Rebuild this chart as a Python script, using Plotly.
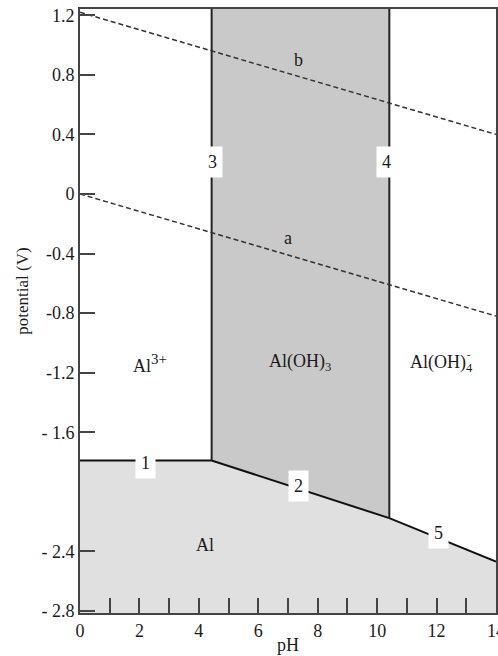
import plotly.graph_objects as go

# ---- data ----
ph_boundary = [0, 4.43, 10.41, 14]          # Al / ionic species boundary (lines 1, 2, 5)
v_boundary = [-1.79, -1.79, -2.177, -2.468]
ph_vertical = [4.43, 10.41]                  # lines 3 and 4
ph_water = [0, 14]
v_water_a = [0.0, -0.82]                     # dashed line a
v_water_b = [1.22, 0.40]                     # dashed line b
y_min, y_max = -2.814, 1.242

y_ticks = [1.2, 0.8, 0.4, 0, -0.4, -0.8, -1.2, -1.6, -2.4, -2.8]
y_tick_text = ["1.2", "0.8", "0.4", "0", "-0.4", "-0.8", "-1.2", "- 1.6", "- 2.4", "- 2.8"]
x_ticks = [0, 2, 4, 6, 8, 10, 12, 14]
x_tick_text = ["0", "2", "4", "6", "8", "10", "12", "14"]
x_minor_ticks = [1, 3, 5, 7, 9, 11, 13]

line_labels = ["1", "2", "3", "4", "5"]
line_label_ph = [2.19, 7.34, 4.47, 10.3, 12.05]
line_label_v = [-1.805, -1.96, 0.215, 0.215, -2.275]

region_labels = ["Al<sup><span style='font-size:15px'>3+</span></sup>",
                 "Al(OH)<sub>3</sub>", "Al(OH)<sub>4</sub>", "Al"]
region_ph = [2.36, 7.4, 12.15, 4.2]
region_v = [-1.14, -1.13, -1.14, -2.356]

FONT = "Liberation Serif, Times New Roman, serif"
TXT = "#1a1a1a"

fig = go.Figure()

# Al (solid) region
fig.add_trace(go.Scatter(
    x=ph_boundary + [ph_boundary[-1], ph_boundary[0]],
    y=v_boundary + [y_min, y_min],
    fill="toself", fillcolor="#e0e0e0", mode="lines",
    line=dict(width=0), hoverinfo="skip", showlegend=False))

# Al(OH)3 region
fig.add_trace(go.Scatter(
    x=[ph_vertical[0], ph_vertical[1], ph_vertical[1], ph_vertical[0]],
    y=[v_boundary[1], v_boundary[2], y_max, y_max],
    fill="toself", fillcolor="#c9c9c9", mode="lines",
    line=dict(width=0), hoverinfo="skip", showlegend=False))

# boundary lines 1, 2, 5
fig.add_trace(go.Scatter(
    x=ph_boundary, y=v_boundary, mode="lines",
    line=dict(color="#111", width=2), hoverinfo="skip", showlegend=False))

# vertical lines 3, 4
for i, ph in enumerate(ph_vertical):
    fig.add_trace(go.Scatter(
        x=[ph, ph], y=[v_boundary[i + 1], y_max], mode="lines",
        line=dict(color="#222", width=2), hoverinfo="skip", showlegend=False))

# dashed water lines
for v in (v_water_a, v_water_b):
    fig.add_trace(go.Scatter(
        x=ph_water, y=v, mode="lines",
        line=dict(color="#333", width=1.5, dash="5px,3px"),
        hoverinfo="skip", showlegend=False))

annotations = []
for t, x, y in zip(line_labels, line_label_ph, line_label_v):
    annotations.append(dict(x=x, y=y, text=t, showarrow=False, bgcolor="white",
                            borderpad=5, font=dict(family=FONT, size=18, color=TXT)))
for t, x, y in zip(region_labels, region_ph, region_v):
    annotations.append(dict(x=x, y=y, text=t, showarrow=False,
                            font=dict(family=FONT, size=18, color=TXT)))
# superscript minus for Al(OH)4-
annotations.append(dict(x=region_ph[2], y=region_v[2], text="-", showarrow=False,
                        xshift=27, yshift=9, font=dict(family=FONT, size=10, color=TXT)))
annotations.append(dict(x=7.0, y=-0.295, text="a", showarrow=False,
                        font=dict(family=FONT, size=18, color=TXT)))
annotations.append(dict(x=7.34, y=0.90, text="b", showarrow=False,
                        font=dict(family=FONT, size=18, color=TXT)))
annotations.append(dict(x=0.5, y=0, xref="paper", yref="paper", text="pH",
                        showarrow=False, yshift=-32, yanchor="middle", xanchor="center",
                        font=dict(family=FONT, size=18, color=TXT)))
annotations.append(dict(x=0, y=0.532, xref="paper", yref="paper", text="potential (V)",
                        showarrow=False, xshift=-57, textangle=-90,
                        xanchor="center", yanchor="middle",
                        font=dict(family=FONT, size=17, color=TXT)))

fig.update_layout(
    width=498, height=656,
    margin=dict(l=80, r=2, t=9, b=43, autoexpand=False),
    paper_bgcolor="white", plot_bgcolor="white",
    annotations=annotations,
    xaxis=dict(range=[0, 14], tickvals=x_ticks, ticktext=x_tick_text,
               ticks="inside", ticklen=15, tickwidth=1.5, tickcolor="#444",
               minor=dict(tickvals=x_minor_ticks, ticks="inside", ticklen=15,
                          tickwidth=1.5, tickcolor="#444", showgrid=False),
               showline=True, linecolor="#444", linewidth=2, mirror=True,
               showgrid=False, zeroline=False, automargin=False,
               ticklabeloverflow="allow",
               tickfont=dict(family=FONT, size=18, color=TXT)),
    yaxis=dict(range=[y_min, y_max], tickvals=y_ticks, ticktext=y_tick_text,
               ticks="inside", ticklen=15, tickwidth=1.5, tickcolor="#444",
               showline=True, linecolor="#444", linewidth=2, mirror=True,
               showgrid=False, zeroline=False, automargin=False,
               ticklabeloverflow="allow",
               tickfont=dict(family=FONT, size=18, color=TXT)),
)

# remove the page's default body margin so the figure fills the window exactly
fig.write_html("out.html", config={"displayModeBar": False},
               post_script="document.body.style.margin='0';document.body.style.overflow='hidden';")
